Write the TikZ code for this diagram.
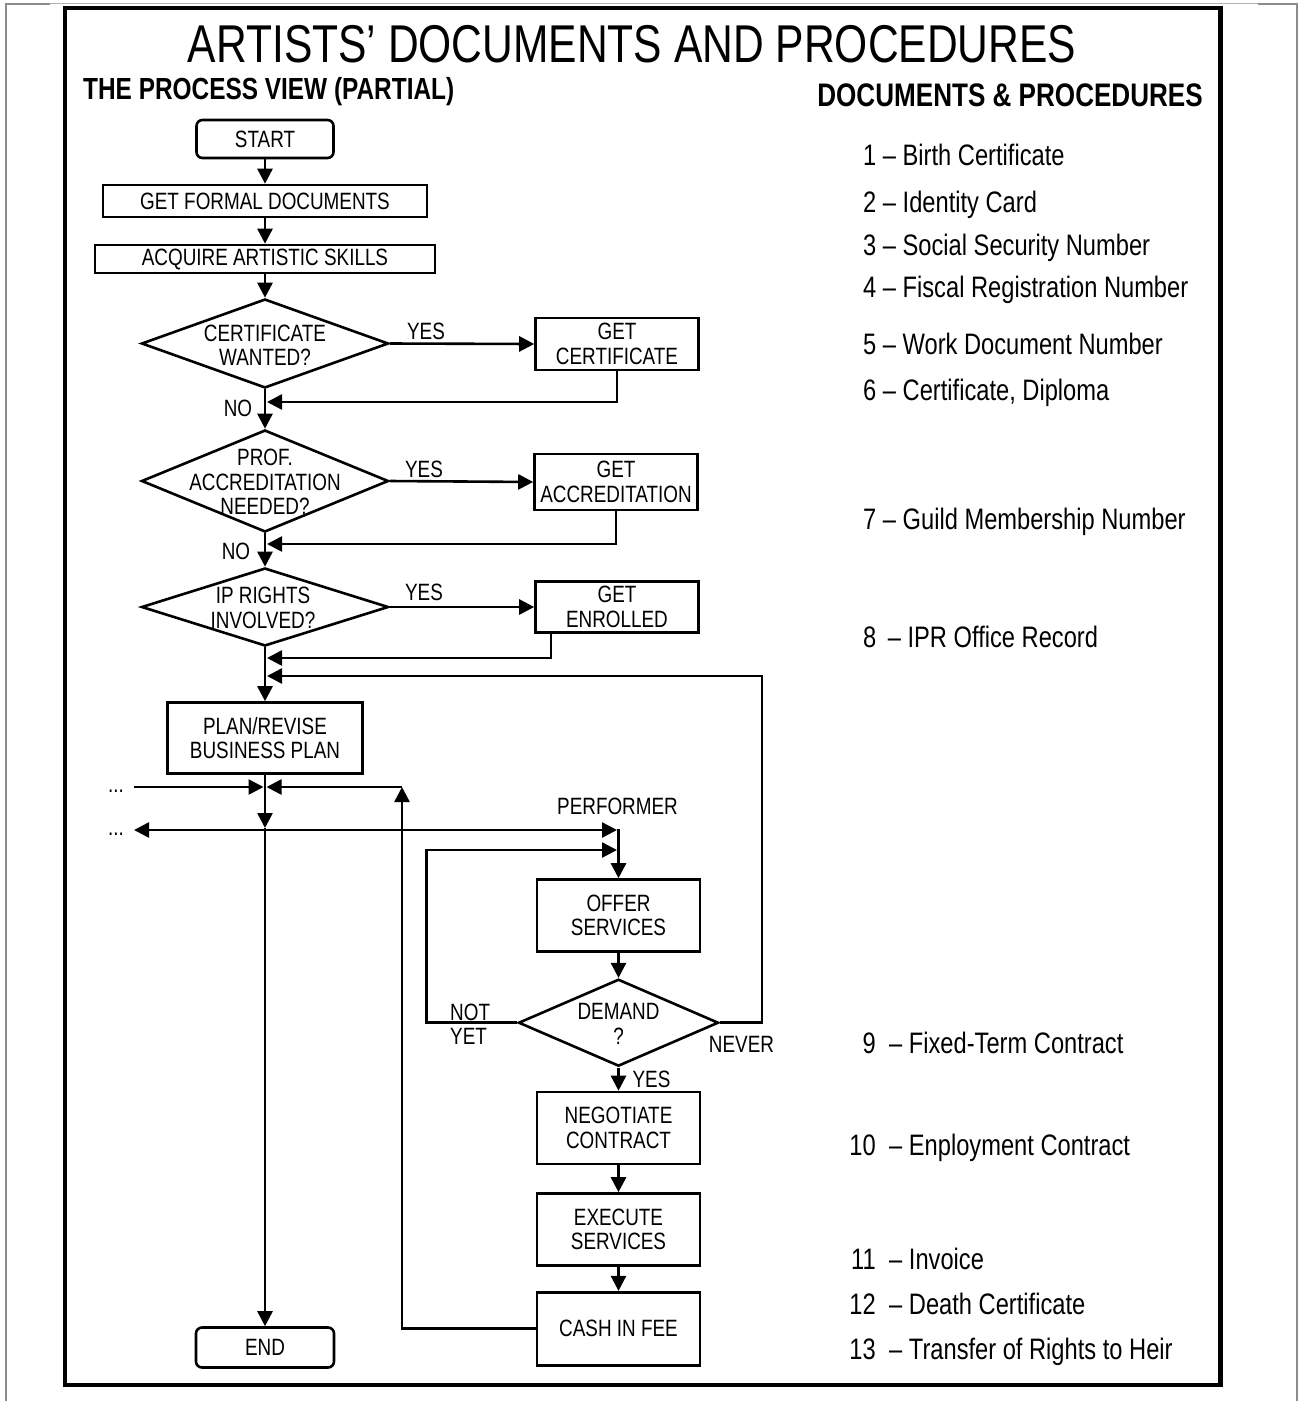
\documentclass[tikz,border=0pt]{standalone}
\usepackage{fontspec}
\setmainfont{Liberation Sans}[FakeStretch=0.8]
\usetikzlibrary{shapes.geometric,arrows.meta,calc}
\begin{document}
\begin{tikzpicture}[x=1pt,y=-1pt,
  txt/.style={font=\fontsize{23.6}{24.5}\selectfont, align=center, inner sep=0pt},
  box/.style={txt, draw, line width=2.6pt, rectangle, minimum width=163pt, inner sep=2pt},
  term/.style={box, rounded corners=6pt},
  dia/.style={draw, line width=2.6pt, diamond, inner sep=0pt},
  arr/.style={line width=2.6pt, -{Triangle[length=15pt,width=15pt]}},
  dbl/.style={line width=2.6pt, {Triangle[length=15pt,width=15pt]}-{Triangle[length=15pt,width=15pt]}},
  leg/.style={font=\fontsize{29.6}{32}\selectfont, anchor=base west, inner sep=0pt},
  legn/.style={font=\fontsize{29.6}{32}\selectfont, anchor=base east, inner sep=0pt},
]
\useasboundingbox (0,0) rectangle (1298,1401);
% page edge artifacts
\draw[black!45, line width=1.3pt] (6,1401) -- (6,4) -- (50,4);
\draw[black!30, line width=0.8pt] (50,3) -- (1258,3);
\draw[black!45, line width=1.3pt] (1258,4) -- (1297,4) -- (1297,1401);
% frame
\draw[line width=4.5pt] (65,8) rectangle (1220.5,1385);

% headings
\node[font=\fontsize{53.2}{55}\selectfont, anchor=base, inner sep=0pt] (title) at (632,62) {ARTISTS’ DOCUMENTS AND PROCEDURES};
\node[font=\bfseries\fontsize{30.5}{32}\selectfont, anchor=base west, inner sep=0pt] (sub1) at (83,99) {THE PROCESS VIEW (PARTIAL)};
\node[font=\bfseries\fontsize{32.6}{34}\selectfont, anchor=base east, inner sep=0pt] (sub2) at (1203,106) {DOCUMENTS \& PROCEDURES};

% legend
\node[leg] (l1) at (863,165.5) {1 – Birth Certificate};
\node[leg] (l2) at (863,212) {2 – Identity Card};
\node[leg] (l3) at (863,255.5) {3 – Social Security Number};
\node[leg] (l4) at (863,297) {4 – Fiscal Registration Number};
\node[leg] (l5) at (863,354) {5 – Work Document Number};
\node[leg] (l6) at (863,400.5) {6 – Certificate, Diploma};
\node[leg] (l7) at (863,529) {7 – Guild Membership Number};
\node[leg] (l8) at (863,647.5) {8 \,– IPR Office Record};
\node[legn] (n9) at (876,1053.5) {9};
\node[leg] (l9) at (889,1053.5) {– Fixed-Term Contract};
\node[legn] (n10) at (876,1155.5) {10};
\node[leg] (l10) at (889,1155.5) {– Enployment Contract};
\node[legn] (n11) at (876,1269) {11};
\node[leg] (l11) at (889,1269) {– Invoice};
\node[legn] (n12) at (876,1314.5) {12};
\node[leg] (l12) at (889,1314.5) {– Death Certificate};
\node[legn] (n13) at (876,1359) {13};
\node[leg] (l13) at (889,1359) {– Transfer of Rights to Heir};

% flowchart nodes
\node[term, minimum width=137pt, minimum height=38pt] (start) at (265,139) {START};
\node[box, minimum width=324pt, minimum height=32pt] (formal) at (265,201) {GET FORMAL DOCUMENTS};
\node[box, minimum width=340pt, minimum height=28pt] (skills) at (265,259) {ACQUIRE ARTISTIC SKILLS};
\node[dia, minimum width=247pt, minimum height=89pt] (d1) at (265,343.5) {};
\node[txt] (d1t) at (265,345.5) {CERTIFICATE\\WANTED?};
\node[box, minimum height=52pt] (cert) at (617,344) {GET\\CERTIFICATE};
\node[dia, minimum width=247pt, minimum height=102pt] (d2) at (265,481) {};
\node[txt] (d2t) at (265,482) {PROF.\\ACCREDITATION\\NEEDED?};
\node[box, minimum height=56pt] (acc) at (616,482) {GET\\ACCREDITATION};
\node[dia, minimum width=247pt, minimum height=78pt] (d3) at (265,607) {};
\node[txt] (d3t) at (263,608) {IP RIGHTS\\INVOLVED?};
\node[box, minimum height=51pt] (enr) at (617,607) {GET\\ENROLLED};
\node[box, minimum width=195pt, minimum height=71pt] (plan) at (265,738) {PLAN/REVISE\\BUSINESS PLAN};
\node[box, minimum height=72pt] (offer) at (618.5,915.5) {OFFER\\SERVICES};
\node[dia, minimum width=200pt, minimum height=87pt] (d4) at (618.5,1022.7) {};
\node[txt] (d4t) at (618.5,1024) {DEMAND\\?};
\node[box, minimum height=72pt] (nego) at (618.5,1128) {NEGOTIATE\\CONTRACT};
\node[box, minimum height=72pt] (exec) at (618.5,1229.5) {EXECUTE\\SERVICES};
\node[box, minimum height=73pt] (cash) at (618.5,1328.7) {CASH IN FEE};
\node[term, minimum width=138pt, minimum height=40pt] (end) at (265,1347.5) {END};

% labels
\node[txt] (yes1) at (426,331) {YES};
\node[txt] (no1) at (238,408) {NO};
\node[txt] (yes2) at (424,469) {YES};
\node[txt] (no2) at (236,551) {NO};
\node[txt] (yes3) at (424,592) {YES};
\node[txt] (perf) at (617.5,806) {PERFORMER};
\node[txt, align=left, anchor=west] (notyet) at (450,1024) {NOT\\YET};
\node[txt] (never) at (741.5,1044) {NEVER};
\node[txt] (yes4) at (651.5,1079) {YES};
\node[txt, anchor=base] (dotsA) at (116,792) {...};
\node[txt, anchor=base] (dotsB) at (116,835) {...};

% coordinates
\coordinate (m1) at (267,402);
\coordinate (m2) at (267,544);
\coordinate (m3) at (267,658);
\coordinate (m4) at (267,676);
\coordinate (j1l) at (263.5,787);
\coordinate (j1r) at (266.5,787);
\coordinate (j2) at (265,828);
\coordinate (lb) at (134,787);
\coordinate (la) at (134,830);
\coordinate (pf) at (617,830);
\coordinate (pv) at (618.5,829);
\coordinate (c1) at (402,787);
\coordinate (ny) at (426.5,850);
\coordinate (nyt) at (617,850);
\coordinate (nv) at (762,676);

% connectors
\draw[arr] (start.south) -- (formal.north);
\draw[arr] (formal.south) -- (skills.north);
\draw[arr] (skills.south) -- (d1.north);
\draw[arr] (d1.east) -- (cert.west);
\draw[arr] (cert.south) |- (m1);
\draw[arr] (d1.south) -- (d2.north);
\draw[arr] (d2.east) -- (acc.west);
\draw[arr] (acc.south) |- (m2);
\draw[arr] (d2.south) -- (d3.north);
\draw[arr] (d3.east) -- (enr.west);
\draw[arr] ([xshift=-66pt]enr.south) |- (m3);
\draw[arr] (d3.south) -- (plan.north);
\draw[arr] (d4.east) -| (nv) -- (m4);
\draw[arr] (plan.south) -- (j2);
\draw[arr] (j2) -- (end.north);
\draw[arr] (lb) -- (j1l);
\draw[arr] (cash.west) -| (c1);
\draw[arr] (c1) -- (j1r);
\draw[dbl] (la) -- (pf);
\draw[arr] (pv) -- (offer.north);
\draw[arr] (d4.west) -| (ny) -- (nyt);
\draw[arr] (offer.south) -- (d4.north);
\draw[arr] (d4.south) -- (nego.north);
\draw[arr] (nego.south) -- (exec.north);
\draw[arr] (exec.south) -- (cash.north);
\end{tikzpicture}
\end{document}
